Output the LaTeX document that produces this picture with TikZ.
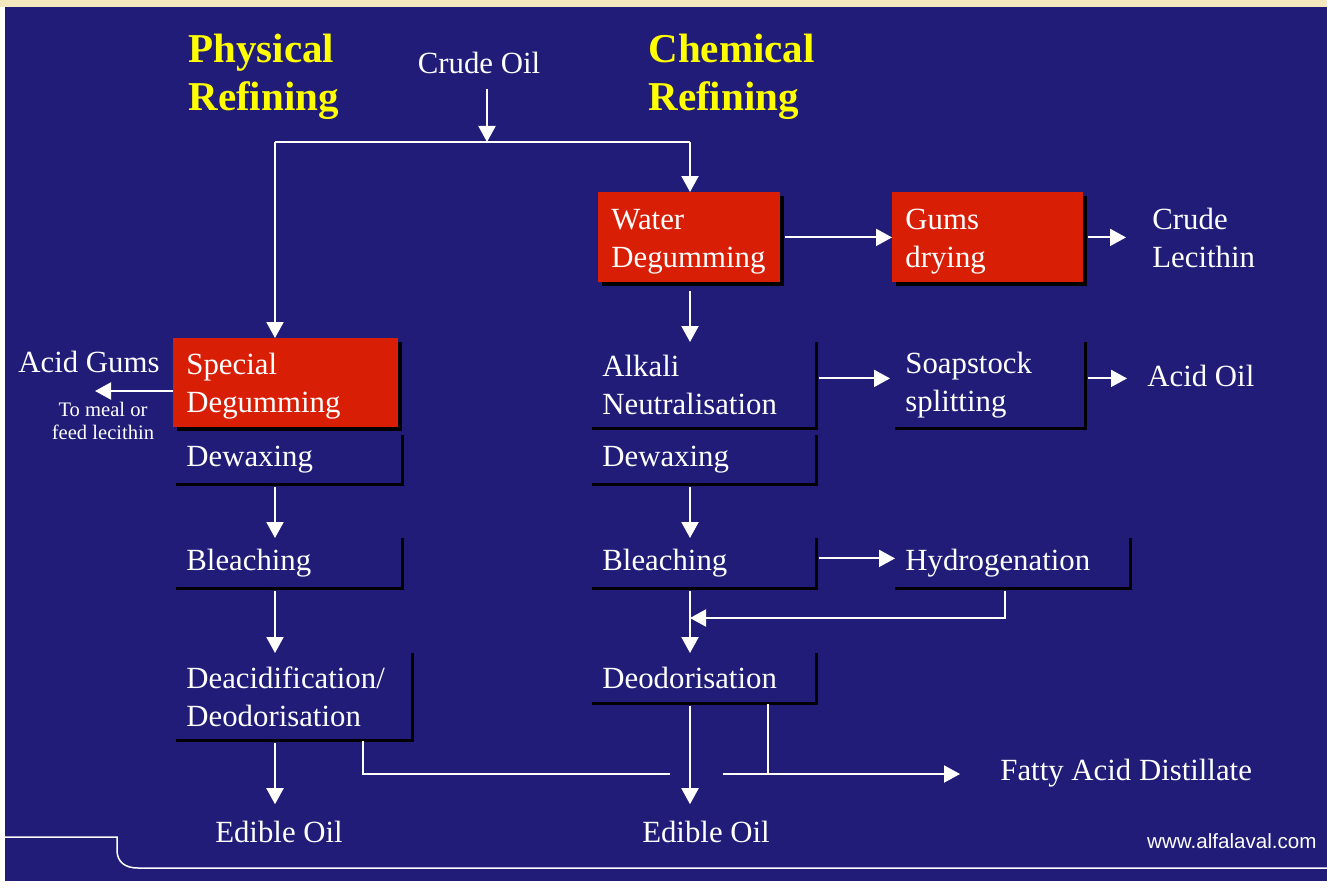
\documentclass[tikz,border=0pt]{standalone}
\usepackage{fontspec}
\setmainfont{Liberation Serif}
\setsansfont{Liberation Sans}
\usetikzlibrary{arrows.meta, shadows}

\definecolor{slidebg}{RGB}{32,28,120}
\definecolor{procred}{RGB}{216,30,5}
\definecolor{titleyellow}{RGB}{255,255,0}
\definecolor{stripbeige}{RGB}{246,232,190}

\newcommand{\stagefont}{\fontsize{15.4}{19}\selectfont}
\newcommand{\titlefont}{\fontsize{20.5}{24}\selectfont\bfseries}
\newcommand{\notefont}{\fontsize{10.3}{11.5}\selectfont}

\tikzset{
  stage/.style={rectangle, anchor=north west, inner xsep=5pt, inner ysep=0pt, align=left, text=white, font=\stagefont},
  redstage/.style={stage, inner xsep=6.5pt, execute at begin node={\rule{0pt}{14pt}}, fill=procred, drop shadow={shadow xshift=2pt, shadow yshift=-2pt, opacity=1, fill=black}},
  outtext/.style={inner sep=0pt, text=white, font=\stagefont},
  flow/.style={draw=white, line width=1pt, -{Triangle[width=8.5pt,length=8pt]}},
  link/.style={draw=white, line width=0.9pt},
  rim/.style={draw=black, line width=1.5pt},
}

\begin{document}
\begin{tikzpicture}[x=0.5pt, y=-0.5pt]
    % slide background
    \useasboundingbox (0,0) rectangle (1327,888);
    \fill[white!97!stripbeige] (0,0) rectangle (1327,888);
    \fill[stripbeige] (0,0) rectangle (1327,7);
    \fill[slidebg] (5,7) rectangle (1327,881);
    \draw[white, line width=0.75pt] (5,837) -- (117,837) -- (117,850) .. controls (117,862) and (125,868) .. (138,868) -- (1327,868);

    % headings
    \node[outtext, font=\titlefont, text=titleyellow, align=left, anchor=west] (phys) at (188,77) {Physical\\Refining};
    \node[outtext, font=\titlefont, text=titleyellow, align=left, anchor=west] (chem) at (648,77) {Chemical\\Refining};
    \node[outtext, anchor=base] (crude) at (479,74) {Crude Oil};

    % physical line
    \node[redstage, text width=99.5pt, minimum height=44.5pt] (sdeg) at (173,338) {Special\\Degumming};
    \node[stage, text width=103pt, minimum height=24.5pt] (ldewax) at (176,435) {Dewaxing};
    \node[stage, text width=103pt, minimum height=25pt] (lbleach) at (176,538) {Bleaching};
    \node[stage, text width=108pt, minimum height=43.5pt] (ldeacid) at (176,653) {Deacidification/\\Deodorisation};

    % chemical line
    \node[redstage, text width=78pt, minimum height=45pt] (wdeg) at (598,192) {Water\\Degumming};
    \node[redstage, text width=82.5pt, minimum height=45pt] (gdry) at (892,192) {Gums\\drying};
    \node[stage, text width=102pt, minimum height=43pt] (alkali) at (592,342) {Alkali\\Neutralisation};
    \node[stage, text width=85pt, minimum height=43pt] (soap) at (895,342) {Soapstock\\splitting};
    \node[stage, text width=102pt, minimum height=24.5pt] (rdewax) at (592,435) {Dewaxing};
    \node[stage, text width=102pt, minimum height=25pt] (rbleach) at (592,538) {Bleaching};
    \node[stage, text width=107.5pt, minimum height=25pt] (hydro) at (895,538) {Hydrogenation};
    \node[stage, text width=102pt, minimum height=25pt] (deodor) at (592,653) {Deodorisation};

    \foreach \n in {ldewax,lbleach,ldeacid,alkali,soap,rdewax,rbleach,hydro,deodor}
        \draw[rim] (\n.north east) -- (\n.south east) -- (\n.south west);

    % products
    \node[outtext, align=left, anchor=west] (lecithin) at (1152,238) {Crude\\Lecithin};
    \node[outtext, anchor=base west] (acidoil) at (1147,386) {Acid Oil};
    \node[outtext] (gums) at (89,362) {Acid Gums};
    \node[outtext, font=\notefont, align=center] (meal) at (103,421) {To meal or\\feed lecithin};
    \node[outtext, anchor=base] (ledible) at (279,842) {Edible Oil};
    \node[outtext, anchor=base] (redible) at (706,842) {Edible Oil};
    \node[outtext, anchor=base west] (fad) at (1000,780) {Fatty Acid Distillate};
    \node[outtext, font=\sffamily\notefont, anchor=base east] (web) at (1317,848) {www.alfalaval.com};

    \coordinate (split) at (487,142);
    \coordinate (lsplit) at (275,142);
    \coordinate (rsplit) at (690,142);
    \coordinate (merge) at (690,618);
    \coordinate (gumtip) at (95,391);
    \coordinate (ltap) at (363,774);
    \coordinate (gapl) at (670,774);
    \coordinate (gapr) at (723,774);
    \coordinate (ffork) at (768,774);

    % connectors
    \draw[flow, shorten <=7pt] (crude.south -| split) -- (split);
    \draw[link] (lsplit) -- (rsplit);
    \draw[flow] (lsplit) -- (lsplit |- sdeg.north);
    \draw[flow] (rsplit) -- (rsplit |- wdeg.north);
    \draw[flow] (sdeg.west |- gumtip) -- (gumtip);
    \draw[flow, shorten <=1pt] (lsplit |- ldewax.south) -- (lsplit |- lbleach.north);
    \draw[flow, shorten <=1pt] (lsplit |- lbleach.south) -- (lsplit |- ldeacid.north);
    \draw[flow, shorten <=1pt, shorten >=8pt] (lsplit |- ldeacid.south) -- (lsplit |- ledible.north);

    \draw[flow, shorten <=2pt] (wdeg.east) -- (gdry.west);
    \draw[flow, shorten <=2pt, shorten >=13pt] (gdry.east) -- (gdry.east -| lecithin.west);
    \draw[flow, shorten <=4pt] (rsplit |- wdeg.south) -- (rsplit |- alkali.north);
    \draw[flow, shorten <=1pt, shorten >=2.5pt] ([yshift=3.5pt]alkali.east) -- ([yshift=3.5pt]soap.west);
    \draw[flow, shorten <=1pt, shorten >=10pt] ([yshift=3.5pt]soap.east) -- ([yshift=3.5pt]soap.east -| acidoil.west);
    \draw[flow, shorten <=1pt] (rsplit |- rdewax.south) -- (rsplit |- rbleach.north);
    \draw[flow, shorten <=1pt] ([yshift=2.5pt]rbleach.east) -- ([yshift=2.5pt]rbleach.east -| hydro.west);
    \draw[flow, shorten <=1pt] (rsplit |- rbleach.south) -- (rsplit |- deodor.north);
    \draw[flow, shorten <=1pt] ([xshift=-3.75pt]hydro.south) |- (merge);
    \draw[flow, shorten <=1pt, shorten >=8pt] (rsplit |- deodor.south) -- (rsplit |- redible.north);

    % distillate lines
    \draw[link] (ldeacid.south -| ltap) -- (ltap) -- (gapl);
    \draw[link] (deodor.south -| ffork) -- (ffork);
    \draw[flow, shorten >=20pt] (gapr) -- (gapr -| fad.west);
\end{tikzpicture}
\end{document}
